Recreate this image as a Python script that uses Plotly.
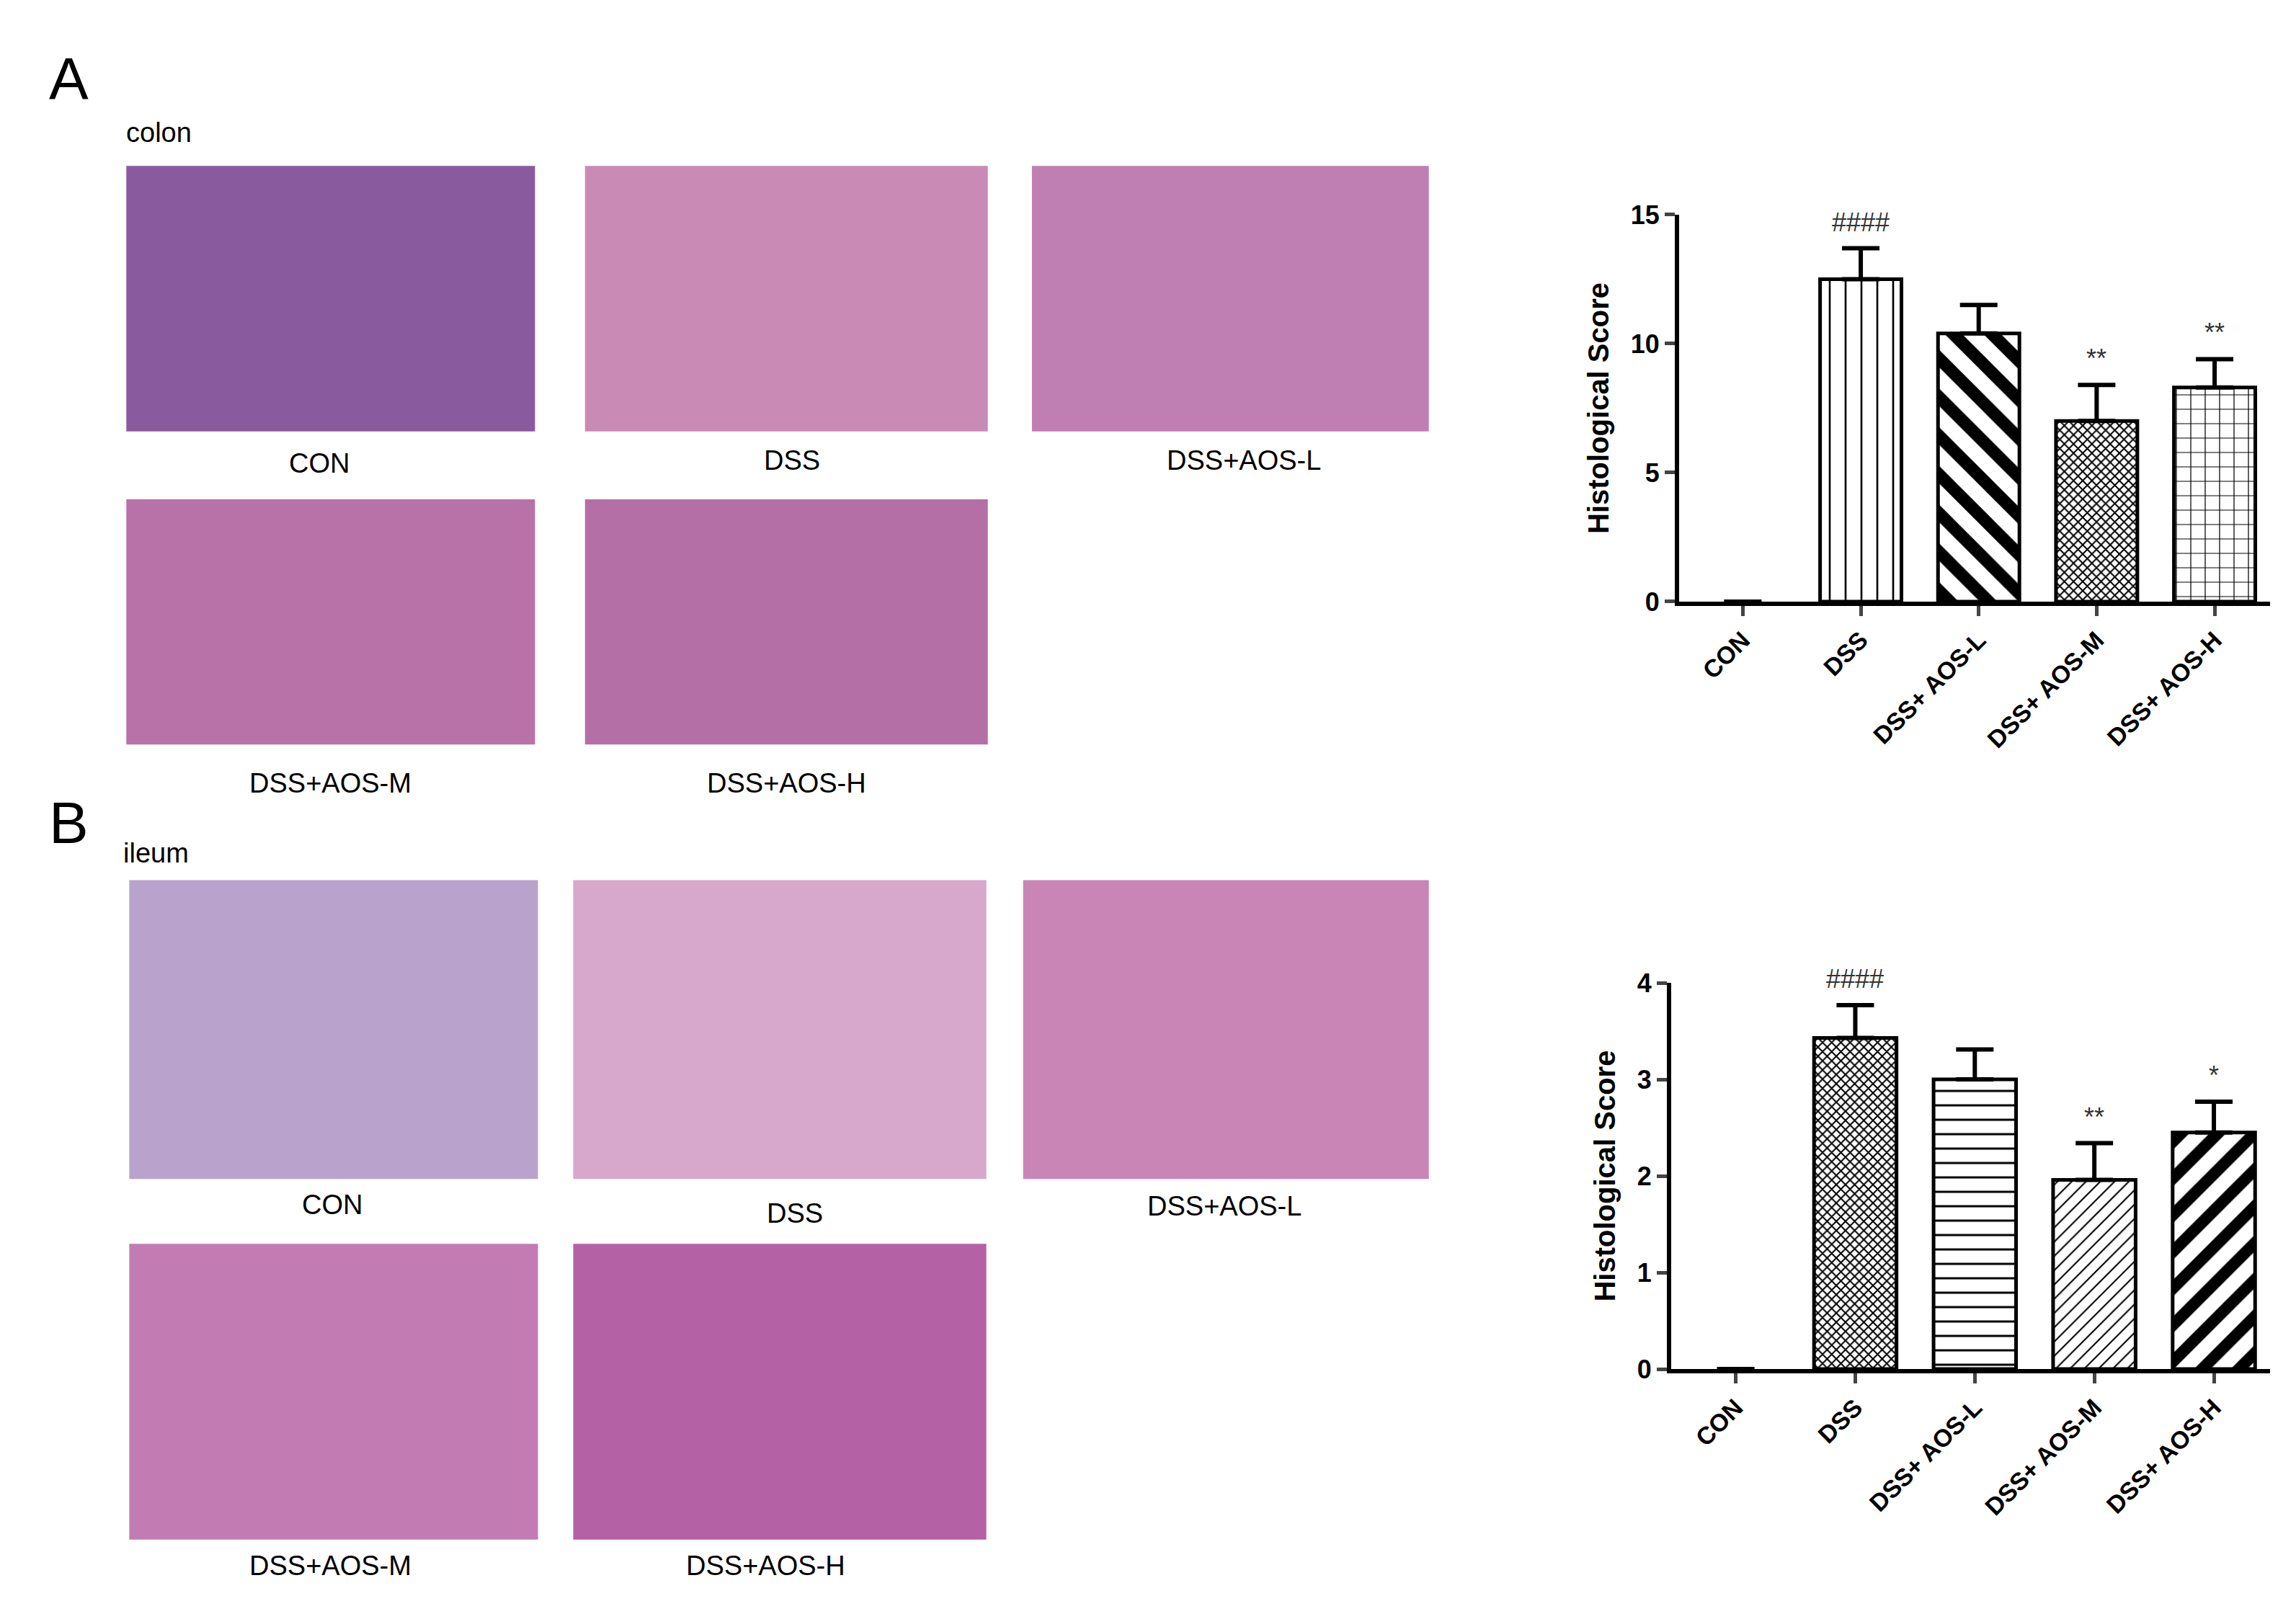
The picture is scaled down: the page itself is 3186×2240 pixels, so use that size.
import plotly.graph_objects as go

W, H = 3186, 2240

groups = ["CON", "DSS", "DSS+ AOS-L", "DSS+ AOS-M", "DSS+ AOS-H"]

colon_score = [0, 12.5, 10.4, 7.0, 8.3]
colon_err = [0, 1.2, 1.1, 1.4, 1.1]
colon_sig = ["", "####", "", "**", "**"]
colon_patterns = ["", "|", "\\", "x", "+"]
colon_sizes = [10, 22, 38, 9, 20]
colon_solid = [0.15, 0.12, 0.45, 0.4, 0.12]

ileum_score = [0, 3.43, 3.0, 1.96, 2.45]
ileum_err = [0, 0.34, 0.31, 0.38, 0.32]
ileum_sig = ["", "####", "", "**", "*"]
ileum_patterns = ["", "x", "-", "/", "/"]
ileum_sizes = [10, 9, 20, 14, 36]
ileum_solid = [0.15, 0.4, 0.15, 0.15, 0.45]

image_labels = ["CON", "DSS", "DSS+AOS-L", "DSS+AOS-M", "DSS+AOS-H"]

BOLD = "Liberation Sans"


def px_x(v):
    return v / W


def px_y(v):
    return 1 - v / H


fig = go.Figure()


def add_chart(idx, scores, errs, sigs, pats, sizes, solid, ymax, dtick, xdom, ydom):
    xa = "x" if idx == 1 else "x2"
    ya = "y" if idx == 1 else "y2"
    fig.add_trace(go.Bar(
        x=list(range(len(groups))), y=scores, width=0.69,
        xaxis=xa, yaxis=ya,
        marker=dict(color="white",
                    line=dict(color="black", width=[0 if v == 0 else 5 for v in scores]),
                    pattern=dict(shape=pats, size=sizes, solidity=solid,
                                 fgcolor="black", bgcolor="white", fgopacity=1)),
        error_y=dict(type="data", array=errs, arrayminus=[0] * len(errs),
                     symmetric=False, color="black", thickness=6, width=26),
        showlegend=False,
    ))
    for i, s in enumerate(sigs):
        if s:
            fig.add_annotation(x=i, y=scores[i] + errs[i], text=s, xref=xa, yref=ya,
                               showarrow=False, xanchor="center", yanchor="bottom", yshift=14,
                               font=dict(size=36, color="#333", family=BOLD))
    axis_x = dict(domain=xdom, range=[-0.54, 4.47], tickvals=list(range(len(groups))),
                  ticktext=["<b>%s</b>" % g for g in groups], tickangle=-45, ticks="outside",
                  ticklen=14, tickwidth=5,
                  showline=True, linewidth=6, linecolor="black", showgrid=False,
                  zeroline=False, anchor=ya,
                  tickfont=dict(size=34, family=BOLD, color="black"))
    axis_y = dict(domain=ydom, range=[0, ymax], dtick=dtick, ticks="outside", ticklen=14,
                  tickwidth=5, showline=True, linewidth=6, linecolor="black",
                  showgrid=False, zeroline=False, anchor=xa,
                  tickprefix="<b>", ticksuffix="</b>",
                  title=dict(text="<b>Histological Score</b>", standoff=20,
                             font=dict(size=40, family=BOLD, color="black")),
                  tickfont=dict(size=36, family=BOLD, color="black"))
    if idx == 1:
        fig.update_layout(xaxis=axis_x, yaxis=axis_y)
    else:
        fig.update_layout(xaxis2=axis_x, yaxis2=axis_y)


add_chart(1, colon_score, colon_err, colon_sig, colon_patterns, colon_sizes, colon_solid,
          15, 5, [px_x(2322), px_x(3142)], [px_y(822), px_y(275)])
add_chart(2, ileum_score, ileum_err, ileum_sig, ileum_patterns, ileum_sizes, ileum_solid,
          4, 1, [px_x(2311), px_x(3142)], [px_y(1907), px_y(1361)])

# tissue image placeholders (positions read at half scale, x2.04)
s = 2.04
colon_boxes = [(82, 101, 360, 285), (394, 101, 668, 285), (698, 101, 968, 285),
               (82, 332, 360, 502), (394, 332, 668, 502)]
colon_fill = ["#8a5a9e", "#c98bb5", "#c07fb2", "#b872a8", "#b46fa6"]
colon_lab = [(213, 307), (535, 305), (842, 305), (221, 529), (531, 529)]
ileum_boxes = [(84, 596, 362, 803), (386, 596, 667, 803), (692, 596, 968, 803),
               (84, 848, 362, 1053), (386, 848, 667, 1053)]
ileum_fill = ["#b9a3cc", "#d7a8cc", "#c985b6", "#c27cb3", "#b561a6"]
ileum_lab = [(222, 821), (537, 827), (829, 822), (221, 1071), (517, 1071)]

for boxes, fills, labs in [(colon_boxes, colon_fill, colon_lab), (ileum_boxes, ileum_fill, ileum_lab)]:
    for (x0, y0, x1, y1), c, (lx, ly), t in zip(boxes, fills, labs, image_labels):
        fig.add_shape(type="rect", xref="paper", yref="paper",
                      x0=px_x(x0 * s), x1=px_x(x1 * s), y0=px_y(y1 * s), y1=px_y(y0 * s),
                      fillcolor=c, line=dict(width=0), layer="below")
        fig.add_annotation(xref="paper", yref="paper", x=px_x(lx * s), y=px_y(ly * s),
                           text=t, showarrow=False, xanchor="center", yanchor="middle",
                           font=dict(size=38, family="Liberation Sans", color="black"))

for txt, x, y, size in [("A", 43, 40, 82), ("colon", 104, 78, 38), ("B", 43, 556, 82), ("ileum", 102, 577, 38)]:
    fig.add_annotation(xref="paper", yref="paper", x=px_x(x * s), y=px_y(y * s), text=txt,
                       showarrow=False, xanchor="center", yanchor="middle",
                       font=dict(size=size, family="Liberation Sans", color="black"))

fig.update_layout(width=W, height=H, margin=dict(l=0, r=0, t=0, b=0),
                  plot_bgcolor="white", paper_bgcolor="white", bargap=0.3)

fig.write_html("out.html")
